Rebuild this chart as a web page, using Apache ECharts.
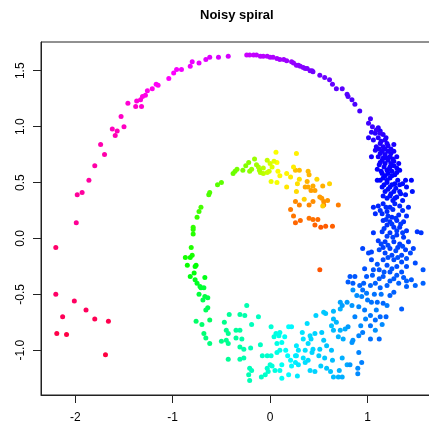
<!DOCTYPE html>
<html>
<head>
<meta charset="utf-8">
<script src="https://cdn.jsdelivr.net/npm/echarts@6/dist/echarts.min.js"></script>
<style>html,body{margin:0;padding:0;background:#fff}#main{width:429px;height:423px}</style>
</head>
<body>
<div id="main"></div>
<script>
// points, in spiral order within each colour band
var orangePts = [[0.51,-0.28],[0.52,0.10],[0.57,0.11],[0.64,0.11],[0.46,0.12],[0.26,0.14],[0.31,0.16],[0.49,0.17],[0.44,0.17],[0.40,0.18],[0.24,0.20],[0.21,0.26],[0.70,0.30],[0.55,0.30],[0.30,0.30],[0.40,0.30],[0.26,0.33],[0.44,0.33],[0.55,0.33],[0.59,0.34],[0.53,0.36],[0.51,0.37],[0.42,0.43],[0.46,0.43],[0.36,0.46],[0.39,0.46],[0.44,0.47],[0.54,0.47],[0.38,0.51],[0.40,0.57],[0.39,0.60],[0.30,0.61],[0.26,0.61]];
var yellowPts = [[0.54,0.29],[0.35,0.35],[0.61,0.49],[0.48,0.53],[0.27,0.42],[0.28,0.49],[0.30,0.53],[0.17,0.46],[0.21,0.55],[0.24,0.64],[0.27,0.76],[0.17,0.58],[0.10,0.56],[0.08,0.60],[0.07,0.68],[0.06,0.77],[0.07,0.50]];
var limePts = [[0.01,0.51],[0.04,0.69],[0.02,0.64],[0.00,0.67],[-0.01,0.60],[-0.03,0.59],[-0.03,0.70],[-0.07,0.58],[-0.07,0.63],[-0.10,0.59],[-0.12,0.64],[-0.11,0.61],[-0.14,0.66],[-0.16,0.71],[-0.19,0.62],[-0.21,0.60],[-0.22,0.68],[-0.25,0.65],[-0.28,0.61],[-0.34,0.62],[-0.36,0.60],[-0.38,0.58]];
var greenPts = [[-0.50,0.50],[-0.54,0.48],[-0.62,0.41],[-0.63,0.39],[-0.71,0.28],[-0.73,0.24],[-0.75,0.19],[-0.79,0.10],[-0.79,0.08],[-0.79,0.04],[-0.81,-0.08],[-0.80,-0.15],[-0.87,-0.17],[-0.82,-0.17],[-0.85,-0.24],[-0.76,-0.24],[-0.77,-0.25],[-0.78,-0.31],[-0.82,-0.34],[-0.67,-0.35],[-0.77,-0.37],[-0.75,-0.40],[-0.72,-0.43],[-0.71,-0.44],[-0.68,-0.44],[-0.73,-0.50],[-0.67,-0.52],[-0.64,-0.53],[-0.69,-0.55],[-0.64,-0.62],[-0.66,-0.64],[-0.62,-0.73],[-0.76,-0.74],[-0.70,-0.77],[-0.68,-0.85],[-0.66,-0.89],[-0.62,-0.94]];
var tealPts = [[-0.50,-0.92],[-0.47,-0.75],[-0.45,-0.82],[-0.45,-0.91],[-0.43,-0.85],[-0.43,-0.94],[-0.43,-1.08],[-0.42,-0.68],[-0.35,-0.82],[-0.35,-0.89],[-0.31,-0.68],[-0.31,-0.82],[-0.31,-0.97],[-0.31,-1.08],[-0.29,-0.90],[-0.27,-0.99],[-0.27,-1.07],[-0.26,-0.69],[-0.24,-0.60],[-0.22,-1.22],[-0.21,-1.27],[-0.21,-1.16],[-0.20,-0.98],[-0.19,-0.77],[-0.19,-1.18],[-0.12,-0.70],[-0.10,-0.95],[-0.09,-1.24],[-0.08,-1.05],[-0.05,-1.22],[-0.03,-1.05],[-0.03,-1.16],[-0.02,-1.19],[0.00,-1.13],[0.01,-0.79],[0.01,-1.05],[0.02,-1.14],[0.04,-0.88],[0.05,-1.18],[0.06,-0.85],[0.07,-0.94],[0.07,-1.02],[0.09,-0.87],[0.10,-0.84],[0.10,-1.00],[0.10,-1.18],[0.12,-0.93],[0.12,-1.13],[0.12,-1.25],[0.15,-0.88],[0.16,-1.00],[0.18,-1.05],[0.19,-0.79],[0.19,-1.22],[0.21,-1.09],[0.22,-1.14],[0.22,-0.79]];
var cyanPts = [[0.26,-1.05],[0.26,-1.11],[0.27,-0.96],[0.27,-1.05],[0.28,-1.23],[0.29,-1.00],[0.29,-1.13],[0.33,-0.84],[0.34,-0.90],[0.34,-1.07],[0.36,-1.00],[0.36,-1.11],[0.38,-0.76],[0.39,-0.94],[0.39,-1.09],[0.41,-0.87],[0.41,-1.18],[0.42,-0.90],[0.43,-1.02],[0.44,-0.99],[0.46,-0.85],[0.46,-1.19],[0.47,-0.69],[0.50,-1.05],[0.51,-0.99],[0.52,-1.14],[0.53,-0.84],[0.55,-0.66],[0.55,-0.91],[0.56,-1.07],[0.57,-0.67],[0.58,-0.96],[0.58,-1.16],[0.62,-1.19],[0.63,-0.78],[0.63,-1.00],[0.64,-1.09],[0.65,-0.82],[0.65,-1.24],[0.65,-0.72],[0.65,-0.65],[0.68,-0.75],[0.70,-0.88],[0.70,-1.24],[0.71,-1.18],[0.72,-0.82],[0.72,-0.63],[0.74,-1.07],[0.74,-1.24],[0.75,-0.90],[0.77,-0.81],[0.79,-1.13]];
var skyPts = [[0.72,-0.57],[0.74,-0.60],[0.79,-0.57],[0.80,-0.79],[0.82,-1.13],[0.84,-0.60],[0.84,-0.93],[0.85,-0.91],[0.85,-0.46],[0.89,-0.51],[0.90,-1.16],[0.90,-1.21],[0.91,-0.61],[0.91,-0.87],[0.91,-1.02],[0.94,-0.52],[0.94,-1.11],[0.95,-0.84],[0.97,-0.64],[0.99,-0.49],[1.03,-0.69],[1.03,-0.78],[1.03,-0.90],[1.04,-0.57],[1.08,-0.73],[1.10,-0.57],[1.12,-0.90],[1.13,-0.70],[1.16,-0.58],[1.19,-0.70],[1.23,-0.51],[1.27,-0.48],[1.35,-0.63]];
var skyFillPts = [[0.95,-0.46],[1.07,-0.50],[1.14,-0.50],[1.00,-0.55],[1.20,-0.60],[1.09,-0.64],[0.87,-0.70],[0.98,-0.72],[1.15,-0.77],[0.93,-0.78],[1.08,-0.82]];
var blueLowPts = [[1.16,0.31],[1.28,0.31],[1.06,0.28],[1.11,0.29],[1.23,0.28],[1.33,0.29],[1.42,0.28],[1.20,0.24],[1.08,0.22],[1.15,0.22],[1.25,0.19],[1.32,0.21],[1.40,0.20],[1.16,0.16],[1.23,0.15],[1.30,0.16],[1.37,0.15],[1.20,0.12],[1.27,0.10],[1.33,0.10],[1.40,0.07],[1.51,0.06],[1.55,0.05],[1.06,0.05],[1.15,0.06],[1.23,0.05],[1.30,0.03],[1.37,0.01],[1.11,-0.02],[1.18,-0.03],[1.27,-0.03],[1.33,-0.05],[1.42,-0.03],[1.16,-0.08],[1.23,-0.09],[1.31,-0.08],[1.39,-0.10],[1.47,-0.09],[0.95,-0.09],[1.04,-0.12],[1.01,-0.13],[1.18,-0.13],[1.25,-0.15],[1.35,-0.15],[1.44,-0.13],[1.04,-0.19],[1.16,-0.19],[1.27,-0.19],[1.35,-0.21],[1.49,-0.22],[1.20,-0.24],[1.30,-0.25],[1.40,-0.25],[0.97,-0.27],[1.06,-0.28],[1.12,-0.28],[1.23,-0.30],[1.35,-0.30],[1.57,-0.28],[0.82,-0.34],[0.87,-0.34],[0.99,-0.34],[1.16,-0.34],[1.12,-0.36],[1.27,-0.36],[1.37,-0.35],[1.45,-0.37],[0.80,-0.39],[0.85,-0.40],[0.96,-0.40],[1.08,-0.40],[1.20,-0.42],[1.32,-0.40],[1.40,-0.43],[1.57,-0.40],[0.92,-0.42],[1.03,-0.42],[1.49,-0.42]];
var blueLowFillPts = [[1.19,0.28],[1.26,0.26],[1.13,0.25],[1.36,0.25],[1.21,0.20],[1.29,0.18],[1.19,0.17],[1.34,0.13],[1.25,0.13],[1.17,0.09],[1.30,0.07],[1.36,0.05],[1.20,0.02],[1.26,0.01],[1.14,-0.05],[1.21,-0.06],[1.36,-0.07],[1.29,-0.11],[1.12,-0.10],[1.21,-0.17],[1.31,-0.17],[1.40,-0.18],[1.10,-0.23],[1.25,-0.27],[1.17,-0.30],[1.30,-0.33],[1.05,-0.33],[1.23,-0.38],[1.40,-0.38],[1.13,-0.44]];
var blueUpPts = [[1.11,0.99],[1.04,0.95],[1.08,0.94],[1.16,0.93],[1.01,0.90],[1.06,0.88],[1.11,0.90],[1.18,0.88],[1.13,0.85],[1.09,0.82],[1.16,0.82],[1.21,0.83],[1.27,0.84],[1.08,0.79],[1.15,0.78],[1.21,0.78],[1.27,0.78],[1.18,0.75],[1.11,0.73],[1.04,0.73],[1.23,0.73],[1.30,0.73],[1.15,0.70],[1.21,0.70],[1.27,0.69],[1.32,0.67],[1.18,0.67],[1.12,0.66],[1.23,0.64],[1.30,0.63],[1.10,0.62],[1.20,0.61],[1.25,0.60],[1.33,0.61],[1.15,0.58],[1.21,0.58],[1.28,0.57],[1.16,0.54],[1.23,0.54],[1.10,0.52],[1.39,0.52],[1.45,0.52],[1.20,0.50],[1.28,0.49],[1.33,0.48],[1.15,0.46],[1.23,0.46],[1.40,0.46],[1.18,0.42],[1.27,0.42],[1.33,0.42],[1.46,0.42],[1.23,0.38],[1.30,0.37],[1.39,0.39],[1.20,0.36],[1.26,0.34],[1.36,0.34]];
var blueUpFillPts = [[1.13,0.96],[1.19,0.90],[1.14,0.87],[1.20,0.85],[1.12,0.80],[1.18,0.80],[1.24,0.80],[1.13,0.76],[1.24,0.76],[1.16,0.72],[1.20,0.72],[1.26,0.71],[1.13,0.68],[1.24,0.67],[1.17,0.64],[1.27,0.65],[1.22,0.62],[1.14,0.60],[1.30,0.59],[1.18,0.56],[1.25,0.56],[1.13,0.52],[1.20,0.52],[1.31,0.52],[1.17,0.48],[1.25,0.48],[1.36,0.49],[1.21,0.44],[1.29,0.45],[1.24,0.40],[1.34,0.40],[1.16,0.38],[1.28,0.36]];
var purplePts = [[-0.24,1.64],[-0.21,1.64],[-0.17,1.64],[-0.14,1.64],[-0.10,1.63],[-0.07,1.63],[-0.03,1.63],[0.00,1.62],[0.03,1.62],[0.07,1.61],[0.10,1.60],[0.14,1.60],[0.17,1.59],[0.22,1.58],[0.24,1.57],[0.27,1.55],[0.29,1.55],[0.31,1.54],[0.34,1.53],[0.36,1.52],[0.38,1.52],[0.41,1.50],[0.43,1.50],[0.44,1.49],[0.51,1.46],[0.56,1.44],[0.61,1.42],[0.64,1.38],[0.68,1.34],[0.74,1.34],[0.79,1.29],[0.80,1.27],[0.84,1.24],[0.87,1.20],[0.92,1.14],[1.03,1.07],[1.01,1.03],[1.05,1.00],[1.09,0.97],[1.13,0.94]];
var magentaPts = [[-1.99,0.14],[-1.98,0.39],[-1.93,0.41],[-1.86,0.52],[-1.80,0.65],[-1.70,0.75],[-1.74,0.84],[-1.59,0.92],[-1.57,0.96],[-1.62,0.98],[-1.50,1.00],[-1.53,1.09],[-1.38,1.18],[-1.32,1.18],[-1.46,1.21],[-1.37,1.23],[-1.33,1.24],[-1.31,1.27],[-1.28,1.28],[-1.26,1.32],[-1.21,1.34],[-1.15,1.37],[-1.17,1.38],[-1.04,1.43],[-0.99,1.48],[-0.96,1.51],[-0.91,1.51],[-0.82,1.54],[-0.80,1.58],[-0.73,1.57],[-0.66,1.60],[-0.62,1.62],[-0.53,1.62],[-0.43,1.63]];
var redPts = [[-2.20,-0.08],[-2.20,-0.50],[-2.01,-0.56],[-1.89,-0.64],[-2.13,-0.70],[-1.80,-0.72],[-1.66,-0.74],[-2.19,-0.85],[-2.09,-0.86],[-1.69,-1.04]];

var xTicks = [-2, -1, 0, 1];
var yTicks = [-1, -0.5, 0, 0.5, 1, 1.5];

// colour band: [points, hue at first point, hue at last point]
var bands = [
    [orangePts, 20, 45],
    [yellowPts, 48, 62],
    [limePts, 65, 95],
    [greenPts, 98, 150],
    [tealPts, 152, 182],
    [cyanPts, 184, 200],
    [skyPts, 202, 218],
    [skyFillPts, 214, 206],
    [blueLowPts, 232, 216],
    [blueLowFillPts, 230, 217],
    [blueUpPts, 250, 234],
    [blueUpFillPts, 248, 235],
    [purplePts, 288, 252],
    [magentaPts, 325, 290],
    [redPts, 335, 345]
];

function hsv(h) {
    h = ((h % 360) + 360) % 360;
    var x = 1 - Math.abs((h / 60) % 2 - 1);
    var r, g, b;
    if (h < 60) { r = 1; g = x; b = 0; }
    else if (h < 120) { r = x; g = 1; b = 0; }
    else if (h < 180) { r = 0; g = 1; b = x; }
    else if (h < 240) { r = 0; g = x; b = 1; }
    else if (h < 300) { r = x; g = 0; b = 1; }
    else { r = 1; g = 0; b = x; }
    return 'rgb(' + Math.round(r * 255) + ',' + Math.round(g * 255) + ',' + Math.round(b * 255) + ')';
}

var series = bands.map(function (band) {
    var pts = band[0];
    return {
        type: 'scatter',
        data: pts,
        symbol: 'circle',
        symbolSize: 5,
        silent: true,
        itemStyle: {
            opacity: 1,
            color: function (p) {
                var t = pts.length > 1 ? p.dataIndex / (pts.length - 1) : 0;
                return hsv(band[1] + (band[2] - band[1]) * t);
            }
        }
    };
});

var font = 'Liberation Sans, Arial, sans-serif';
var myChart = echarts.init(document.getElementById('main'));

option = {
    animation: false,
    backgroundColor: '#fff',
    title: {
        text: 'Noisy spiral',
        left: 200,
        top: 9,
        padding: 0,
        textStyle: { fontSize: 13, fontWeight: 'bold', fontFamily: font, color: '#000' }
    },
    grid: {
        left: 41, top: 42, right: -8, bottom: 28,
        outerBoundsMode: 'none',
        containLabel: false,
        show: true, borderColor: '#222', borderWidth: 1, backgroundColor: 'transparent'
    },
    xAxis: {
        type: 'value',
        min: -2.352,
        max: 1.713,
        splitLine: { show: false },
        axisLine: { show: true, onZero: false, lineStyle: { color: '#222' } },
        axisTick: { show: true, inside: false, length: 8, customValues: xTicks, lineStyle: { color: '#222' } },
        axisLabel: {
            customValues: xTicks, margin: 17, fontSize: 12, fontFamily: font, color: '#000',
            formatter: function (v) { return String(v); }
        }
    },
    yAxis: {
        type: 'value',
        min: -1.40,
        max: 1.757,
        splitLine: { show: false },
        axisLine: { show: true, onZero: false, lineStyle: { color: '#222' } },
        axisTick: { show: true, inside: false, length: 8, customValues: yTicks, lineStyle: { color: '#222' } },
        axisLabel: {
            customValues: yTicks, rotate: 90, margin: 14, fontSize: 12, fontFamily: font, color: '#000',
            formatter: function (v) { return v.toFixed(1); }
        }
    },
    series: series
};

myChart.setOption(option);
</script>
</body>
</html>
